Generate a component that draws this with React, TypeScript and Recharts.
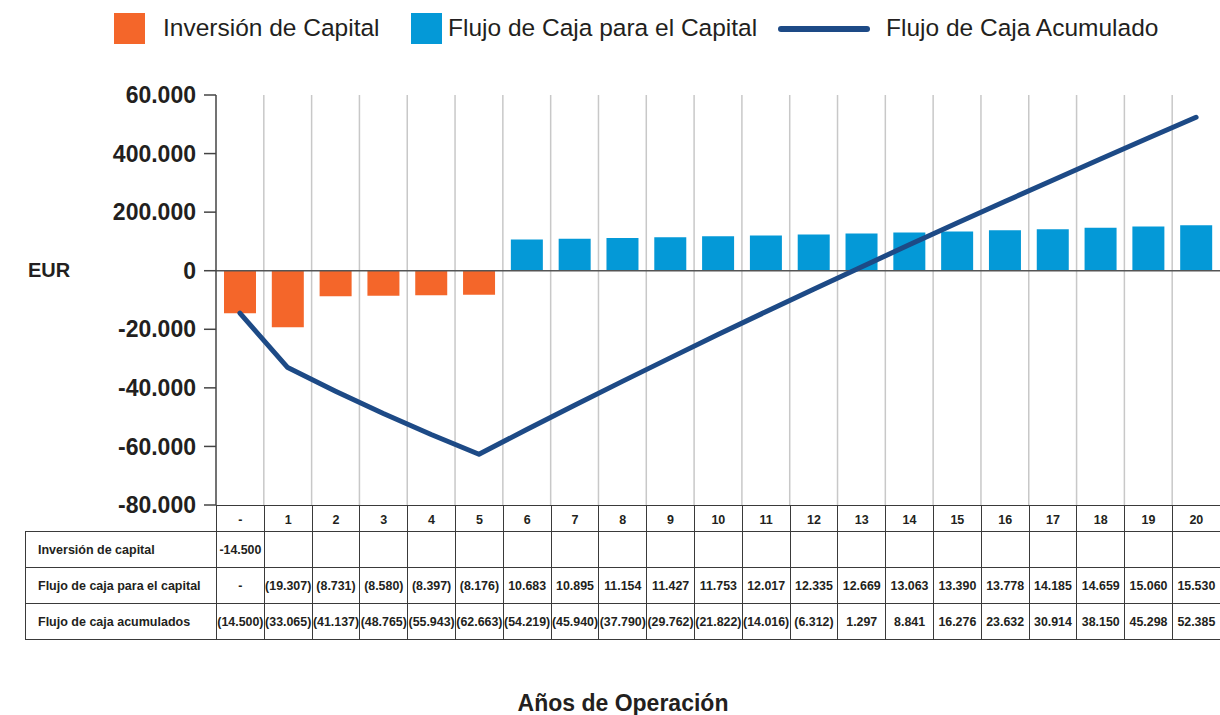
import { ComposedChart, Bar, Line, XAxis, YAxis, CartesianGrid, ReferenceLine, Cell } from 'recharts';

const years = ['-', '1', '2', '3', '4', '5', '6', '7', '8', '9', '10', '11', '12', '13', '14', '15', '16', '17', '18', '19', '20'];

const inversionCapital: (number | null)[] = [-14500, null, null, null, null, null, null, null, null, null, null, null, null, null, null, null, null, null, null, null, null];

const flujoCapital: (number | null)[] = [
  null, -19307, -8731, -8580, -8397, -8176, 10683, 10895, 11154, 11427, 11753,
  12017, 12335, 12669, 13063, 13390, 13778, 14185, 14659, 15060, 15530,
];

const flujoAcumulado = [
  -14500, -33065, -41137, -48765, -55943, -62663, -54219, -45940, -37790, -29762, -21822,
  -14016, -6312, 1297, 8841, 16276, 23632, 30914, 38150, 45298, 52385,
];

const yTicks = [-80000, -60000, -40000, -20000, 0, 20000, 40000, 60000];
// labels as printed on the original (typos included)
const yTickLabels = ['-80.000', '-60.000', '-40.000', '-20.000', '0', '200.000', '400.000', '60.000'];

const rowLabels = ['Inversión de capital', 'Flujo de caja para el capital', 'Flujo de caja acumulados'];

const ORANGE = '#F4662A';
const BLUE = '#0499D7';
const NAVY = '#1D4A86';
const INK = '#231F20';
const BORDER = '#3a3a3a';
const FONT = "'Liberation Sans', Arial, Helvetica, sans-serif";

const data = years.map((y, i) => ({
  year: y,
  barra: inversionCapital[i] ?? flujoCapital[i],
  acumulado: flujoAcumulado[i],
}));

const miles = (v: number) => String(Math.abs(v)).replace(/\B(?=(\d{3})+(?!\d))/g, '.');
const paren = (v: number) => (v < 0 ? `(${miles(v)})` : miles(v));

const tableRows = [
  inversionCapital.map((v) => (v == null ? '' : (v < 0 ? '-' : '') + miles(v))),
  flujoCapital.map((v) => (v == null ? '-' : paren(v))),
  flujoAcumulado.map((v) => paren(v)),
];

const PLOT_LEFT = 216;
const PLOT_TOP = 95;
const PLOT_BOTTOM = 505;
const CHART_W = 1220;
const CHART_H = 715;
const colW = (CHART_W - PLOT_LEFT) / years.length;

const legendText: React.CSSProperties = {
  position: 'absolute',
  top: 28,
  transform: 'translateY(-50%)',
  fontSize: 24.5,
  color: INK,
  whiteSpace: 'nowrap',
  lineHeight: 1,
};

const cell: React.CSSProperties = {
  border: `1px solid ${BORDER}`,
  padding: 0,
  textAlign: 'center',
  whiteSpace: 'nowrap',
  fontSize: 12.4,
  fontWeight: 'bold',
  color: INK,
  overflow: 'visible',
};

export default function App() {
  return (
    <div style={{ position: 'absolute', left: 0, top: 0, width: CHART_W, height: CHART_H, fontFamily: FONT, background: '#fff' }}>
      {/* legend */}
      <div style={{ position: 'absolute', left: 114, top: 13, width: 31, height: 31, background: ORANGE }} />
      <span style={{ ...legendText, left: 163 }}>Inversión de Capital</span>
      <div style={{ position: 'absolute', left: 411, top: 13, width: 31, height: 31, background: BLUE }} />
      <span style={{ ...legendText, left: 448 }}>Flujo de Caja para el Capital</span>
      <div style={{ position: 'absolute', left: 778, top: 26, width: 92, height: 6, borderRadius: 3, background: NAVY }} />
      <span style={{ ...legendText, left: 886 }}>Flujo de Caja Acumulado</span>

      <span style={{ position: 'absolute', left: 28, top: 270, transform: 'translateY(-50%)', fontSize: 20, fontWeight: 'bold', color: INK, lineHeight: 1 }}>EUR</span>

      <div style={{ position: 'absolute', left: 0, top: 0 }}>
        <ComposedChart
          width={CHART_W}
          height={CHART_H}
          data={data}
          margin={{ top: PLOT_TOP, right: 0, bottom: CHART_H - PLOT_BOTTOM, left: 0 }}
        >
          <CartesianGrid
            horizontal={false}
            stroke="#c8c8c8"
            strokeWidth={1.5}
            verticalCoordinatesGenerator={({ offset }: any) =>
              years.slice(1).map((_, i) => offset.left + (offset.width * (i + 1)) / years.length)
            }
          />
          <XAxis dataKey="year" type="category" hide />
          <YAxis
            type="number"
            domain={[-80000, 60000]}
            ticks={yTicks}
            interval={0}
            width={PLOT_LEFT}
            tickSize={12}
            tickMargin={8}
            axisLine={{ stroke: '#444', strokeWidth: 1.5 }}
            tickLine={{ stroke: '#444', strokeWidth: 1.5 }}
            tick={{ fill: INK, fontSize: 23, fontWeight: 'bold', fontFamily: FONT }}
            tickFormatter={(v: number) => yTickLabels[yTicks.indexOf(v)]}
          />
          <Bar dataKey="barra" barSize={32} isAnimationActive={false}>
            {data.map((d, i) => (
              <Cell key={i} fill={(d.barra ?? 0) < 0 ? ORANGE : BLUE} />
            ))}
          </Bar>
          <ReferenceLine y={0} stroke="#555" strokeWidth={1.5} />
          <Line
            type="linear"
            dataKey="acumulado"
            stroke={NAVY}
            strokeWidth={5}
            strokeLinecap="round"
            strokeLinejoin="round"
            dot={false}
            activeDot={false}
            isAnimationActive={false}
          />
        </ComposedChart>
      </div>

      {/* data table under the plot */}
      <table
        style={{
          position: 'absolute',
          left: 25,
          top: PLOT_BOTTOM,
          width: CHART_W - 25,
          borderCollapse: 'collapse',
          tableLayout: 'fixed',
          fontFamily: FONT,
        }}
      >
        <colgroup>
          <col style={{ width: PLOT_LEFT - 25 }} />
          {years.map((y) => (
            <col key={y} style={{ width: colW }} />
          ))}
        </colgroup>
        <tbody>
          <tr style={{ height: 26 }}>
            <td style={{ ...cell, border: 'none', borderBottom: `1px solid ${BORDER}` }} />
            {years.map((y) => (
              <td key={y} style={{ ...cell, fontSize: 12.5, paddingTop: 2 }}>
                {y}
              </td>
            ))}
          </tr>
          {tableRows.map((row, r) => (
            <tr key={r} style={{ height: 36 }}>
              <td style={{ ...cell, textAlign: 'left', paddingLeft: 12, fontSize: 12.5 }}>{rowLabels[r]}</td>
              {row.map((v, i) => (
                <td key={i} style={cell}>
                  {v}
                </td>
              ))}
            </tr>
          ))}
        </tbody>
      </table>

      <span style={{ position: 'absolute', left: 623, top: 703, transform: 'translate(-50%, -50%)', fontSize: 23, fontWeight: 'bold', color: INK, whiteSpace: 'nowrap', lineHeight: 1 }}>
        Años de Operación
      </span>
    </div>
  );
}
